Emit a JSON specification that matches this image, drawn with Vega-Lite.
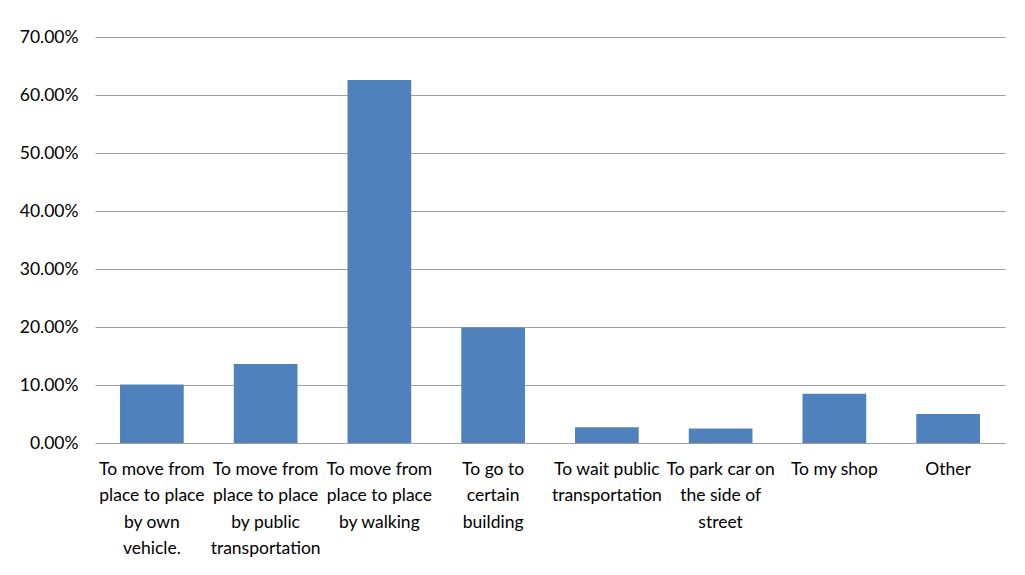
{
  "$schema": "https://vega.github.io/schema/vega-lite/v6.json",
  "width": 910,
  "height": 406,
  "autosize": {"type": "none"},
  "padding": {"left": 95, "top": 37, "right": 20, "bottom": 132},
  "background": "white",
  "data": {
    "values": [
      {"purpose": "To move from|place to place|by own|vehicle.", "share": 0.101},
      {"purpose": "To move from|place to place|by public|transportation", "share": 0.136},
      {"purpose": "To move from|place to place|by walking", "share": 0.626},
      {"purpose": "To go to|certain|building", "share": 0.199},
      {"purpose": "To wait public|transportation", "share": 0.027},
      {"purpose": "To park car on|the side of|street", "share": 0.025},
      {"purpose": "To my shop", "share": 0.085},
      {"purpose": "Other", "share": 0.05}
    ]
  },
  "mark": {"type": "bar", "color": "#4F81BD"},
  "encoding": {
    "x": {
      "field": "purpose",
      "type": "nominal",
      "sort": null,
      "scale": {"paddingInner": 0.44, "paddingOuter": 0.22},
      "axis": {
        "title": null,
        "labelAngle": 0,
        "labelExpr": "split(datum.label, '|')",
        "labelFont": "Lato",
        "labelFontSize": 17.5,
        "labelColor": "#000000",
        "labelLineHeight": 26.5,
        "labelPadding": 17,
        "labelBaseline": "top",
        "labelLimit": 200,
        "domain": false,
        "ticks": false,
        "tickSize": 0
      }
    },
    "y": {
      "field": "share",
      "type": "quantitative",
      "scale": {"domain": [0, 0.7], "nice": false},
      "axis": {
        "title": null,
        "values": [0, 0.1, 0.2, 0.3, 0.4, 0.5, 0.6, 0.7],
        "format": ".2%",
        "labelFont": "Lato",
        "labelFontSize": 17.5,
        "labelColor": "#000000",
        "labelPadding": 17,
        "domain": false,
        "ticks": false,
        "tickSize": 0,
        "grid": true,
        "gridColor": "#A0A0A0",
        "gridWidth": 1.2
      }
    }
  },
  "config": {"view": {"stroke": null}}
}
